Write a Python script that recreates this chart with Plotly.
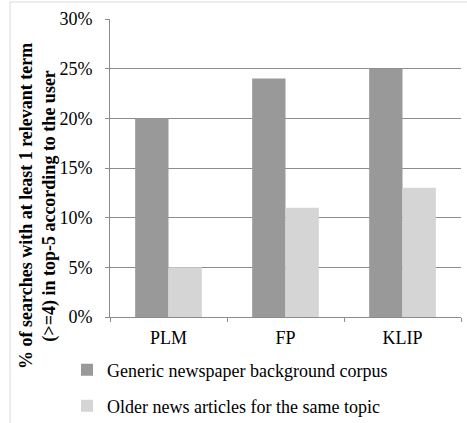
import plotly.graph_objects as go

categories = ["PLM", "FP", "KLIP"]
generic_corpus = [0.20, 0.24, 0.25]
older_articles = [0.05, 0.11, 0.13]
series_names = ["Generic newspaper background corpus", "Older news articles for the same topic"]
y_ticks = [0, 0.05, 0.10, 0.15, 0.20, 0.25, 0.30]

W, H = 467, 423
plot_left, plot_right, plot_top, plot_bottom = 110, 461, 19, 317

def px_x(p):
    return p / W

def px_y(p):
    return 1 - p / H

fig = go.Figure()
fig.add_trace(go.Bar(x=categories, y=generic_corpus, name=series_names[0],
                     marker=dict(color="#999999", line=dict(width=0)), legend="legend"))
fig.add_trace(go.Bar(x=categories, y=older_articles, name=series_names[1],
                     marker=dict(color="#d5d5d5", line=dict(width=0)), legend="legend2"))

font_serif = "Liberation Serif, Times New Roman, serif"

fig.update_layout(
    width=W, height=H,
    margin=dict(l=0, r=0, t=0, b=0, autoexpand=False),
    paper_bgcolor="white", plot_bgcolor="white",
    barmode="group", bargap=0.43, bargroupgap=0,
    font=dict(family=font_serif, size=18, color="black"),
    xaxis=dict(domain=[px_x(plot_left), px_x(plot_right)], automargin=False,
               showgrid=False, showline=True, linecolor="#8c8c8c", linewidth=1,
               ticks="outside", ticklen=4, tickcolor="#8c8c8c",
               tickson="boundaries", tickfont=dict(size=18), ticklabelstandoff=4),
    yaxis=dict(domain=[px_y(plot_bottom), px_y(plot_top)], automargin=False,
               range=[0, 0.30], tickvals=y_ticks, tickformat=".0%",
               showgrid=True, gridcolor="#8c8c8c", gridwidth=1,
               showline=True, linecolor="#8c8c8c", linewidth=1,
               ticks="outside", ticklen=4, tickcolor="#8c8c8c",
               tickfont=dict(size=18), zeroline=False, ticklabelstandoff=9),
    legend=dict(x=px_x(67), y=px_y(370), xanchor="left", yanchor="middle",
                font=dict(size=18), bgcolor="rgba(0,0,0,0)"),
    legend2=dict(x=px_x(67), y=px_y(406), xanchor="left", yanchor="middle",
                 font=dict(size=18), bgcolor="rgba(0,0,0,0)"),
    showlegend=True,
)

fig.add_annotation(
    text="<b>% of searches with at least 1 relevant term<br>(>=4) in top-5 according to the user</b>",
    xref="paper", yref="paper", x=px_x(38), y=px_y(206),
    xanchor="center", yanchor="middle", textangle=-90, showarrow=False,
    font=dict(size=18, family=font_serif, color="black"),
)

# outer chart frame (left and top edges visible)
fig.add_shape(type="line", xref="paper", yref="paper",
              x0=px_x(10), x1=px_x(10), y0=px_y(2), y1=0,
              line=dict(color="#d9d9d9", width=1))
fig.add_shape(type="line", xref="paper", yref="paper",
              x0=px_x(10), x1=1, y0=px_y(2), y1=px_y(2),
              line=dict(color="#d9d9d9", width=1))

fig.write_html("out.html", config={"displayModeBar": False},
               post_script="document.body.style.margin='0';document.body.style.overflow='hidden';")
